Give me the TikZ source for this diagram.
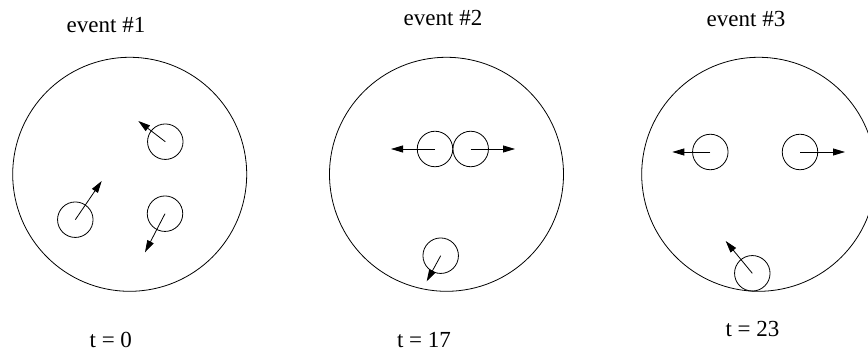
\documentclass[tikz,border=0pt]{standalone}
\usepackage{fontspec}
\setmainfont{Liberation Serif}
\usetikzlibrary{arrows.meta}

\begin{document}
\begin{tikzpicture}[
  x=1pt,y=-1pt,
  vessel/.style={draw,circle,minimum size=234pt,inner sep=0pt,line width=0.8pt},
  particle/.style={draw,circle,minimum size=35.5pt,inner sep=0pt,line width=0.8pt},
  motion/.style={line width=0.8pt,-{Triangle[length=12pt,width=7pt]}},
  caption/.style={font=\fontsize{23}{27}\selectfont,anchor=base,inner sep=0pt}]
\path[use as bounding box] (0,0) rectangle (868,352);
\clip (0,0) rectangle (868,352);
\node[caption] (title1) at (106,33) {event \#1};
\node[caption] (title2) at (443,26) {event \#2};
\node[caption] (title3) at (746,27) {event \#3};
\node[vessel] (box1) at (129.7,174.3) {};
\node[vessel] (box2) at (446.5,174.3) {};
\node[vessel] (box3) at (758.7,174.3) {};
\node[particle] (a1) at (165.3,141.7) {};
\node[particle] (b1) at (75.3,219.7) {};
\node[particle] (c1) at (165,213.7) {};
\coordinate (va1) at (138.3,121);
\coordinate (vb1) at (101.7,181);
\coordinate (vc1) at (145,252.3);
\draw[motion] (a1.center) -- (va1);
\draw[motion] (b1.center) -- (vb1);
\draw[motion] (c1.center) -- (vc1);
\node[particle] (a2) at (435,149) {};
\node[particle] (b2) at (470.7,149) {};
\node[particle] (c2) at (440.7,255.7) {};
\coordinate (va2) at (391,149);
\coordinate (vb2) at (515,149);
\coordinate (vc2) at (426.7,281.3);
\draw[motion] (a2.center) -- (va2);
\draw[motion] (b2.center) -- (vb2);
\draw[motion] (c2.center) -- (vc2);
\node[particle] (a3) at (710.3,152) {};
\node[particle] (b3) at (800,152) {};
\node[particle] (c3) at (752.3,273.3) {};
\coordinate (va3) at (672.3,152);
\coordinate (vb3) at (845,152);
\coordinate (vc3) at (725.7,241);
\draw[motion] (a3.center) -- (va3);
\draw[motion] (b3.center) -- (vb3);
\draw[motion] (c3.center) -- (vc3);
\node[caption] (time1) at (110.8,348) {t = 0};
\node[caption] (time2) at (424,348) {t = 17};
\node[caption] (time3) at (752.5,337) {t = 23};
\end{tikzpicture}
\end{document}
